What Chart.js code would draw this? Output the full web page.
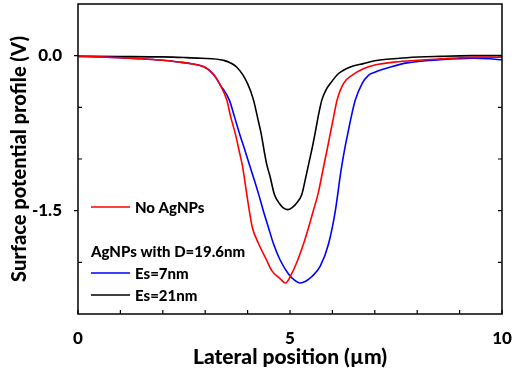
<!DOCTYPE html>
<html>
<head>
<meta charset="utf-8">
<script src="https://cdn.jsdelivr.net/npm/chart.js@4/dist/chart.umd.min.js"></script>
<style>
  html, body { margin: 0; padding: 0; background: #fff; }
  #wrap { width: 512px; height: 378px; }
</style>
</head>
<body>
<div id="wrap"><canvas id="c" width="512" height="378"></canvas></div>
<script>
// No AgNPs
const redX = [0, 0.5, 1, 1.5, 2, 2.4, 2.7, 2.88, 3.0, 3.12, 3.23, 3.35, 3.51, 3.6, 3.71, 3.8, 3.88, 3.98, 4.04, 4.11, 4.26, 4.45, 4.57, 4.77, 4.89, 5.04, 5.18, 5.32, 5.44, 5.55, 5.66, 5.79, 5.87, 5.95, 6.03, 6.11, 6.26, 6.46, 6.73, 7.0, 7.5, 8.0, 8.5, 9.0, 9.5, 10];
const redY = [-0.007, -0.012, -0.02, -0.03, -0.045, -0.063, -0.08, -0.096, -0.115, -0.15, -0.2, -0.28, -0.43, -0.59, -0.755, -0.92, -1.07, -1.34, -1.5, -1.66, -1.82, -1.98, -2.08, -2.16, -2.20, -2.11, -1.98, -1.82, -1.66, -1.5, -1.34, -1.08, -0.92, -0.755, -0.59, -0.43, -0.27, -0.19, -0.126, -0.09, -0.06, -0.045, -0.032, -0.02, -0.014, -0.015];

// Es=7nm
const blueX = [0, 0.5, 1, 1.5, 2, 2.4, 2.7, 2.88, 3.0, 3.12, 3.23, 3.35, 3.57, 3.69, 3.81, 3.94, 4.04, 4.26, 4.37, 4.49, 4.61, 4.77, 4.96, 5.1, 5.24, 5.38, 5.51, 5.71, 5.91, 6.07, 6.2, 6.3, 6.37, 6.44, 6.54, 6.7, 6.85, 7.0, 7.37, 7.76, 8.54, 9.33, 9.7, 10];
const blueY = [-0.007, -0.012, -0.02, -0.03, -0.045, -0.063, -0.08, -0.096, -0.115, -0.15, -0.2, -0.28, -0.43, -0.59, -0.755, -0.92, -1.05, -1.34, -1.5, -1.66, -1.82, -1.98, -2.11, -2.17, -2.20, -2.18, -2.14, -2.04, -1.82, -1.5, -1.12, -0.88, -0.74, -0.6, -0.43, -0.27, -0.19, -0.16, -0.11, -0.07, -0.04, -0.025, -0.03, -0.04];

// Es=21nm
const blackX = [0, 1, 2, 2.5, 2.9, 3.43, 3.74, 4.0, 4.14, 4.23, 4.32, 4.39, 4.45, 4.53, 4.63, 4.75, 4.85, 4.95, 5.05, 5.15, 5.28, 5.36, 5.45, 5.52, 5.59, 5.66, 5.75, 5.85, 5.95, 6.14, 6.42, 6.73, 7.0, 7.76, 8.54, 9.3, 10];
const blackY = [-0.005, -0.008, -0.012, -0.018, -0.025, -0.045, -0.11, -0.27, -0.43, -0.59, -0.755, -0.92, -1.05, -1.17, -1.34, -1.43, -1.475, -1.49, -1.47, -1.43, -1.34, -1.2, -1.03, -0.9, -0.755, -0.6, -0.43, -0.33, -0.27, -0.175, -0.11, -0.077, -0.05, -0.02, -0.007, 0.0, 0.0];

const xLabels = [0, 5, 10];
const yLabels = [0.0, -1.5];
const legendHeader = 'AgNPs with D=19.6nm';

const FONT = 'Lato, "Open Sans", sans-serif';
const W = 900;

const pts = (xs, ys) => xs.map((x, i) => ({ x: x, y: ys[i] }));

function line(label, xs, ys, color) {
    return {
        label: label,
        data: pts(xs, ys),
        borderColor: color,
        backgroundColor: color,
        borderWidth: 1.6,
        pointRadius: 0,
        cubicInterpolationMode: 'monotone',
        fill: false
    };
}

// frame, inward ticks and the in-plot legend
const framePlugin = {
    id: 'frame',
    afterDraw(chart) {
        const { ctx, chartArea: a, scales } = chart;
        const xs = scales.x, ys = scales.y;
        ctx.save();
        ctx.strokeStyle = '#000';
        ctx.lineWidth = 1.5;
        ctx.strokeRect(a.left, a.top, a.right - a.left, a.bottom - a.top);
        ctx.lineWidth = 1.2;
        ctx.beginPath();
        for (let v = 0; v <= 10; v++) {
            const px = xs.getPixelForValue(v);
            ctx.moveTo(px, a.bottom);
            ctx.lineTo(px, a.bottom - 4);
        }
        for (let v = -2.5; v <= 0.5001; v += 0.5) {
            const py = ys.getPixelForValue(v);
            if (v > -2.49 && v < 0.49) {
                ctx.moveTo(a.right, py);
                ctx.lineTo(a.right - 4, py);
                const major = yLabels.some(l => Math.abs(l - v) < 1e-6);
                ctx.moveTo(a.left, py);
                ctx.lineTo(major ? a.left - 4 : a.left + 4, py);
            }
        }
        ctx.stroke();

        // legend
        const items = [
            { y: 207, color: '#ff0000', text: 'No AgNPs' },
            { y: 273, color: '#0000ff', text: 'Es=7nm' },
            { y: 295, color: '#000000', text: 'Es=21nm' }
        ];
        ctx.font = W + ' 15px ' + FONT;
        ctx.textBaseline = 'middle';
        ctx.fillStyle = '#000';
        ctx.lineWidth = 1.5;
        items.forEach(it => {
            ctx.strokeStyle = it.color;
            ctx.beginPath();
            ctx.moveTo(91, it.y);
            ctx.lineTo(130, it.y);
            ctx.stroke();
            ctx.fillText(it.text, 135, it.y + 1);
        });
        ctx.fillText(legendHeader, 91, 252);
        ctx.restore();
    }
};

new Chart(document.getElementById('c').getContext('2d'), {
    type: 'line',
    data: {
        datasets: [
            line('No AgNPs', redX, redY, '#ff0000'),
            line('Es=7nm', blueX, blueY, '#0000ff'),
            line('Es=21nm', blackX, blackY, '#000000')
        ]
    },
    options: {
        responsive: false,
        animation: false,
        layout: { padding: { top: 4, right: 10, left: 0, bottom: 0 } },
        plugins: { legend: { display: false }, tooltip: { enabled: false } },
        scales: {
            x: {
                type: 'linear',
                min: 0, max: 10,
                grid: { display: false },
                border: { display: false },
                afterFit(s) { s.height = 64; s.paddingLeft = 0; s.paddingRight = 0; },
                ticks: {
                    stepSize: 1,
                    padding: 6,
                    color: '#000',
                    font: { family: FONT, size: 17, weight: W },
                    autoSkip: false,
                    maxRotation: 0,
                    callback: v => xLabels.includes(v) ? String(v) : ''
                },
                title: {
                    display: true,
                    text: 'Lateral position (µm)',
                    color: '#000',
                    font: { family: FONT, size: 21, weight: W },
                    padding: { top: 0, bottom: 8 }
                }
            },
            y: {
                type: 'linear',
                min: -2.5, max: 0.5,
                grid: { display: false },
                border: { display: false },
                afterFit(s) { s.width = 78; s.paddingTop = 0; s.paddingBottom = 0; },
                ticks: {
                    stepSize: 0.5,
                    padding: 8,
                    color: '#000',
                    font: { family: FONT, size: 17, weight: W },
                    autoSkip: false,
                    callback: v => yLabels.some(l => Math.abs(l - v) < 1e-6) ? v.toFixed(1) : ''
                },
                title: {
                    display: true,
                    text: 'Surface potential profile (V)',
                    color: '#000',
                    font: { family: FONT, size: 20, weight: W },
                    padding: { top: 8, bottom: 0 }
                }
            }
        }
    },
    plugins: [framePlugin]
});
</script>
</body>
</html>
